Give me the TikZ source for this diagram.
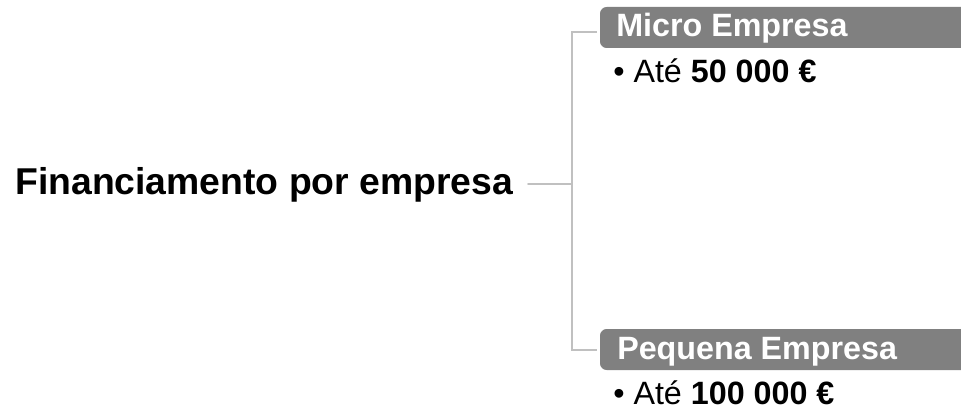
\documentclass[tikz,border=0pt]{standalone}
\usepackage{fontspec}
\setmainfont{Liberation Sans}
\definecolor{boxgray}{RGB}{128,128,128}
\definecolor{linegray}{RGB}{192,192,192}
\tikzset{
  px/.style={x=0.75pt,y=-0.75pt},
  conn/.style={draw=linegray,line width=1.2pt},
  headbox/.style={fill=boxgray,rounded corners=5pt},
  headtext/.style={anchor=base west,inner sep=0pt,text=white,font=\fontsize{24.2}{29}\selectfont\bfseries},
  itemtext/.style={anchor=base west,inner sep=0pt,font=\fontsize{24.2}{29}\selectfont},
  roottext/.style={anchor=base west,inner sep=0pt,font=\fontsize{28}{34}\selectfont\bfseries}
}
\begin{document}
\begin{tikzpicture}[px]
\useasboundingbox (0,0) rectangle (961,410);
% header boxes
\fill[headbox] (600,7) rectangle (990,48);
\fill[headbox] (600,329) rectangle (990,370);
\node[headtext] (micro) at (616,37) {Micro Empresa};
\node[headtext] (peq) at (617,359) {Pequena Empresa};
\node[itemtext] (i1) at (613,83) {\textbullet{} Até \textbf{50 000 €}};
\node[itemtext] (i2) at (613,404) {\textbullet{} Até \textbf{100 000 €}};
\node[roottext] (root) at (15,194) {Financiamento por empresa};
% connectors
\coordinate (rootend) at (528,184);
\coordinate (trunk) at (572,184);
\coordinate (mtop) at (597,32);
\coordinate (pbot) at (597,350);
\draw[conn,line cap=round] (rootend) -- (trunk);
\draw[conn] (mtop) -| (trunk) |- (pbot);
\end{tikzpicture}
\end{document}
